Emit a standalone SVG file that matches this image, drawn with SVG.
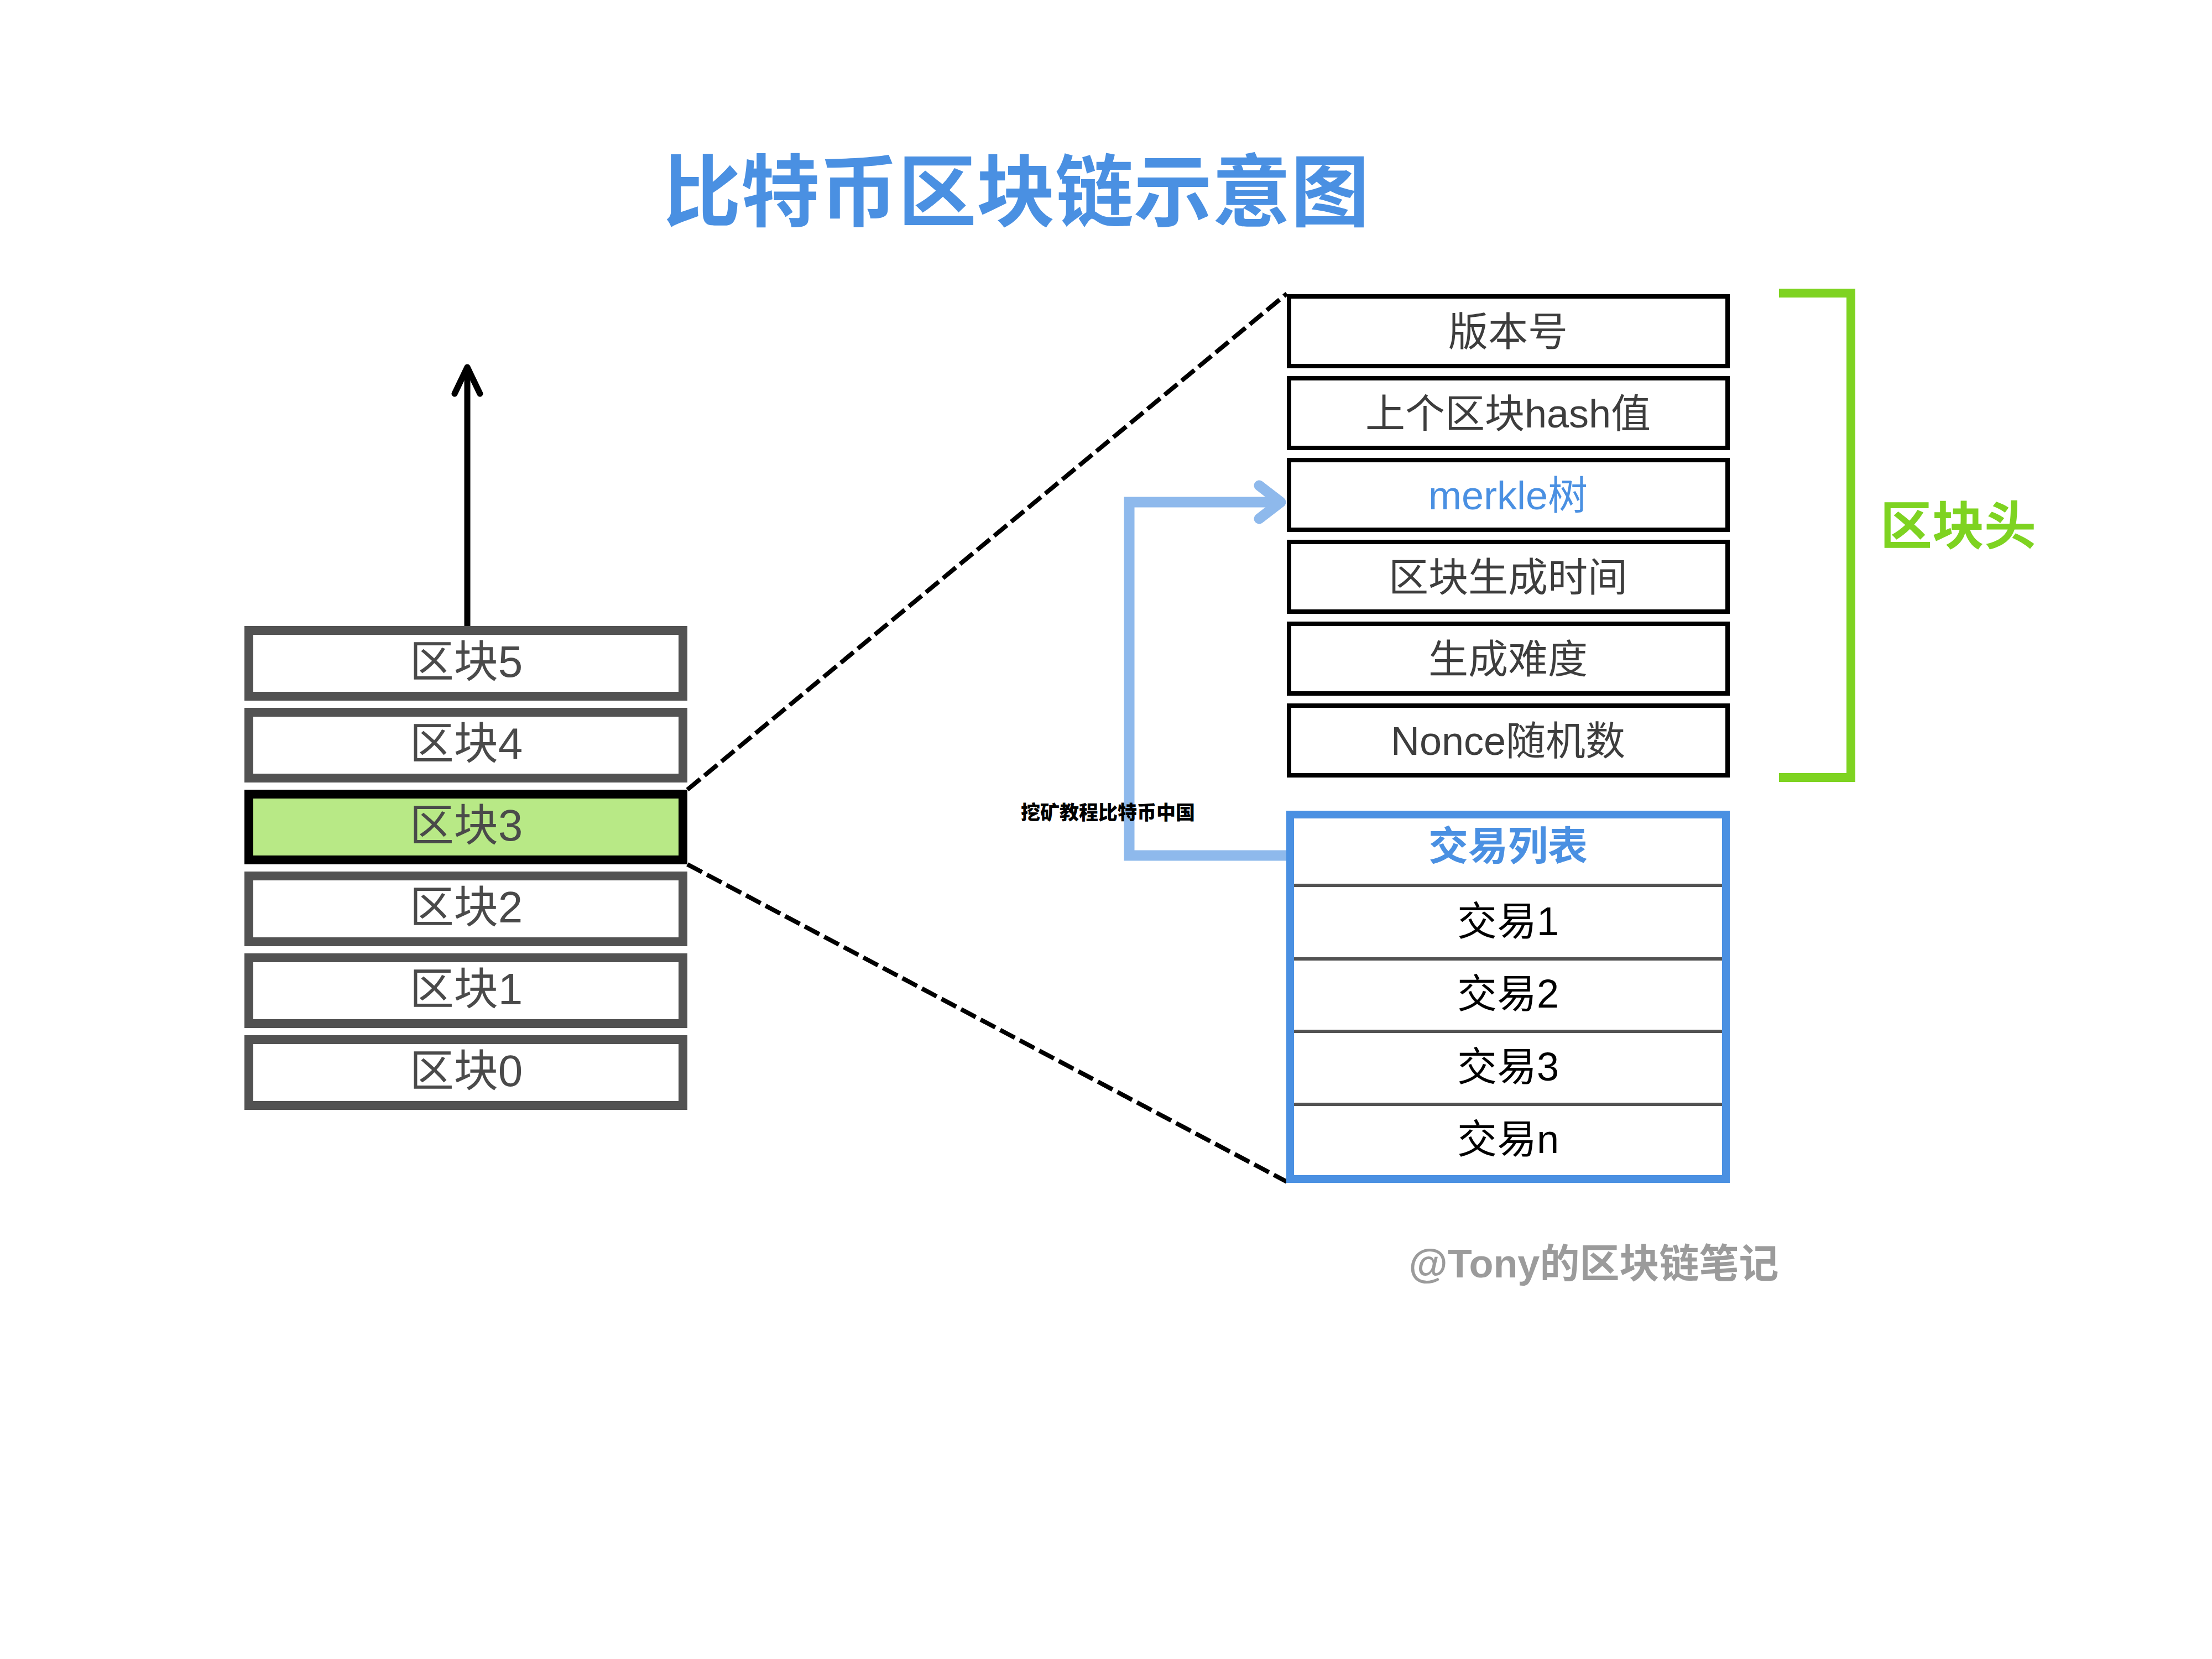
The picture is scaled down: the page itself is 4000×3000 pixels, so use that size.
<svg xmlns="http://www.w3.org/2000/svg" width="4000" height="3000" viewBox="0 0 4000 3000">
<style>
text{font-family:"Liberation Sans","Noto Sans CJK SC",sans-serif;text-anchor:middle}
.blk{fill:#fff;stroke:#525252;stroke-width:16}
.blkt{font-size:80px;fill:#4a4a4a}
.hdr{fill:#fff;stroke:#000;stroke-width:8}
.hdrt{font-size:72px;fill:#3d3d3d}
.txt{font-size:72px;fill:#000}
.dash{fill:none;stroke:#000;stroke-width:8;stroke-dasharray:30 10}
</style>
<rect width="4000" height="3000" fill="#fff"/>
<text id="title" x="1837" y="398" style="font-size:142px;font-weight:bold;fill:#4A90E2;font-family:'Noto Sans CJK SC',sans-serif">比特币区块链示意图</text>
<g id="connectors">
<path class="dash" d="M1243,1428 L2327,531"/>
<path class="dash" d="M1243,1563 L2327,2137"/>
<path d="M845,1132 V668" fill="none" stroke="#000" stroke-width="11"/>
<path d="M822,712 L845,664 L868,712" fill="none" stroke="#000" stroke-width="11" stroke-linecap="round" stroke-linejoin="round"/>
<path d="M2327,1547 H2042 V908 H2310" fill="none" stroke="#8EB9EC" stroke-width="19"/>
<path d="M2277,878 L2316,908 L2277,938" fill="none" stroke="#8EB9EC" stroke-width="19" stroke-linecap="round" stroke-linejoin="round"/>
</g>
<g id="block5"><rect class="blk" x="450" y="1140" width="785" height="119"/><text class="blkt" x="843" y="1224">区块5</text></g>
<g id="block4"><rect class="blk" x="450" y="1288" width="785" height="119"/><text class="blkt" x="843" y="1372">区块4</text></g>
<g id="block3"><rect x="450" y="1436" width="785" height="119" fill="#B8E986" stroke="#000" stroke-width="16"/><text class="blkt" x="843" y="1520">区块3</text></g>
<g id="block2"><rect class="blk" x="450" y="1584" width="785" height="119"/><text class="blkt" x="843" y="1668">区块2</text></g>
<g id="block1"><rect class="blk" x="450" y="1732" width="785" height="119"/><text class="blkt" x="843" y="1816">区块1</text></g>
<g id="block0"><rect class="blk" x="450" y="1880" width="785" height="119"/><text class="blkt" x="843" y="1964">区块0</text></g>
<g id="version"><rect class="hdr" x="2331" y="536" width="793" height="126"/><text class="hdrt" x="2727" y="625">版本号</text></g>
<g id="prevhash"><rect class="hdr" x="2331" y="684" width="793" height="126"/><text class="hdrt" x="2727" y="773">上个区块hash值</text></g>
<g id="merkle"><rect class="hdr" x="2331" y="832" width="793" height="126"/><text class="hdrt" x="2727" y="921" style="fill:#4A90E2">merkle树</text></g>
<g id="time"><rect class="hdr" x="2331" y="980" width="793" height="126"/><text class="hdrt" x="2727" y="1069">区块生成时间</text></g>
<g id="difficulty"><rect class="hdr" x="2331" y="1128" width="793" height="126"/><text class="hdrt" x="2727" y="1217">生成难度</text></g>
<g id="nonce"><rect class="hdr" x="2331" y="1276" width="793" height="126"/><text class="hdrt" x="2727" y="1365">Nonce随机数</text></g>
<g id="header-bracket">
<path d="M3217,530 H3347 V1406 H3217" fill="none" stroke="#7ED321" stroke-width="16"/>
<text x="3541" y="985" style="font-size:94px;font-weight:bold;fill:#7ED321">区块头</text>
</g>
<g id="txlist">
<rect x="2333" y="1473" width="788" height="659" fill="#fff" stroke="#4A90E2" stroke-width="14"/>
<g stroke="#525252" stroke-width="6">
<line x1="2340" y1="1601" x2="3114" y2="1601"/>
<line x1="2340" y1="1734" x2="3114" y2="1734"/>
<line x1="2340" y1="1865" x2="3114" y2="1865"/>
<line x1="2340" y1="1997" x2="3114" y2="1997"/>
</g>
<text x="2727" y="1555" style="font-size:72px;font-weight:bold;fill:#4A90E2">交易列表</text>
<text class="txt" x="2727" y="1691">交易1</text>
<text class="txt" x="2727" y="1822">交易2</text>
<text class="txt" x="2727" y="1954">交易3</text>
<text class="txt" x="2727" y="2085">交易n</text>
</g>
<text id="watermark" x="1846" y="1482" style="font-size:35px;font-weight:900;fill:#000;text-anchor:start;font-family:'Noto Sans CJK SC',sans-serif">挖矿教程比特币中国</text>
<text id="footer" x="2882" y="2310" style="font-size:72px;font-weight:bold;fill:#9B9B9B">@Tony的区块链笔记</text>
</svg>
